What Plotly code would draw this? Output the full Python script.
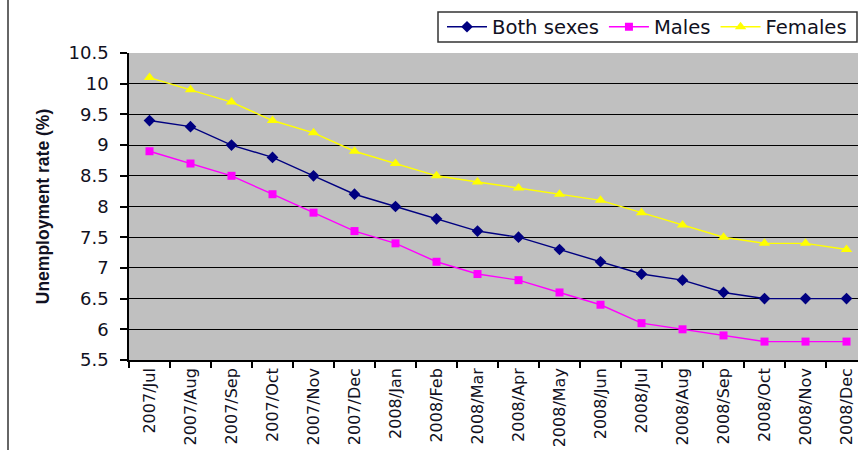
import plotly.graph_objects as go

months = ["2007/Jul", "2007/Aug", "2007/Sep", "2007/Oct", "2007/Nov", "2007/Dec",
          "2008/Jan", "2008/Feb", "2008/Mar", "2008/Apr", "2008/May", "2008/Jun",
          "2008/Jul", "2008/Aug", "2008/Sep", "2008/Oct", "2008/Nov", "2008/Dec"]
both_sexes = [9.4, 9.3, 9.0, 8.8, 8.5, 8.2, 8.0, 7.8, 7.6, 7.5, 7.3, 7.1, 6.9, 6.8, 6.6, 6.5, 6.5, 6.5]
males = [8.9, 8.7, 8.5, 8.2, 7.9, 7.6, 7.4, 7.1, 6.9, 6.8, 6.6, 6.4, 6.1, 6.0, 5.9, 5.8, 5.8, 5.8]
females = [10.1, 9.9, 9.7, 9.4, 9.2, 8.9, 8.7, 8.5, 8.4, 8.3, 8.2, 8.1, 7.9, 7.7, 7.5, 7.4, 7.4, 7.3]
y_ticks = [5.5, 6, 6.5, 7, 7.5, 8, 8.5, 9, 9.5, 10, 10.5]

FONT = "DejaVu Sans, Verdana, sans-serif"
TITLE_FONT = "Liberation Sans, Arial, sans-serif"
TEXT = "#111122"

# plot-area geometry in pixels, used to place the legend frame in paper units
L, T, PW, PH = 129, 53, 729, 307


def px_x(px):
    return (px - L) / PW


def px_y(py):
    return 1 + (T - py) / PH


fig = go.Figure()
fig.add_trace(go.Scatter(x=months, y=both_sexes, name="Both sexes", mode="lines+markers",
                         line=dict(color="#000080", width=1.4),
                         marker=dict(symbol="diamond", size=9, color="#000080")))
fig.add_trace(go.Scatter(x=months, y=males, name="Males", mode="lines+markers",
                         line=dict(color="#FF00FF", width=1.4),
                         marker=dict(symbol="square", size=8, color="#FF00FF")))
fig.add_trace(go.Scatter(x=months, y=females, name="Females", mode="lines+markers",
                         line=dict(color="#FFFF00", width=1.4),
                         marker=dict(symbol="triangle-up", size=10, color="#FFFF00")))

fig.update_layout(
    width=858, height=450,
    margin=dict(l=L, r=0, t=T, b=90),
    paper_bgcolor="white",
    plot_bgcolor="#C0C0C0",
    font=dict(family=FONT, color=TEXT),
    showlegend=True,
    legend=dict(orientation="h", x=px_x(442), xanchor="left", y=px_y(27), yanchor="middle",
                bgcolor="rgba(0,0,0,0)", borderwidth=0,
                font=dict(size=19.6, family=FONT, color=TEXT), itemwidth=40,
                tracegroupgap=0),
)

fig.update_xaxes(
    type="category", range=[-0.5, 17.28], tickson="boundaries",
    showgrid=False, showline=True, linecolor="black", linewidth=1.5,
    ticks="outside", ticklen=6, tickcolor="black", tickwidth=1.5,
    tickangle=-90, tickfont=dict(size=16, family=FONT, color=TEXT), zeroline=False,
)
fig.update_yaxes(
    range=[5.5, 10.5], tickvals=y_ticks, ticktext=[f"{v:g}" for v in y_ticks],
    showgrid=True, gridcolor="black", gridwidth=1.3,
    showline=True, linecolor="black", linewidth=1.5,
    ticks="outside", ticklen=7, tickcolor="black", tickwidth=1.5,
    tickfont=dict(size=18, family=FONT, color=TEXT), ticklabelstandoff=8, zeroline=False,
    title=dict(text="<b>Unemployment rate (%)</b>",
               font=dict(size=17.5, family=TITLE_FONT, color=TEXT), standoff=14),
)

# legend frame
fig.add_shape(type="rect", xref="paper", yref="paper",
              x0=px_x(438), x1=px_x(857), y0=px_y(42), y1=px_y(12),
              fillcolor="white", line=dict(color="#333333", width=1.5))

# chart-area border on the left
fig.add_shape(type="line", xref="paper", yref="paper",
              x0=px_x(8), x1=px_x(8), y0=-0.35, y1=1.2,
              line=dict(color="#333333", width=1.5))

fig.write_html("out.html")
